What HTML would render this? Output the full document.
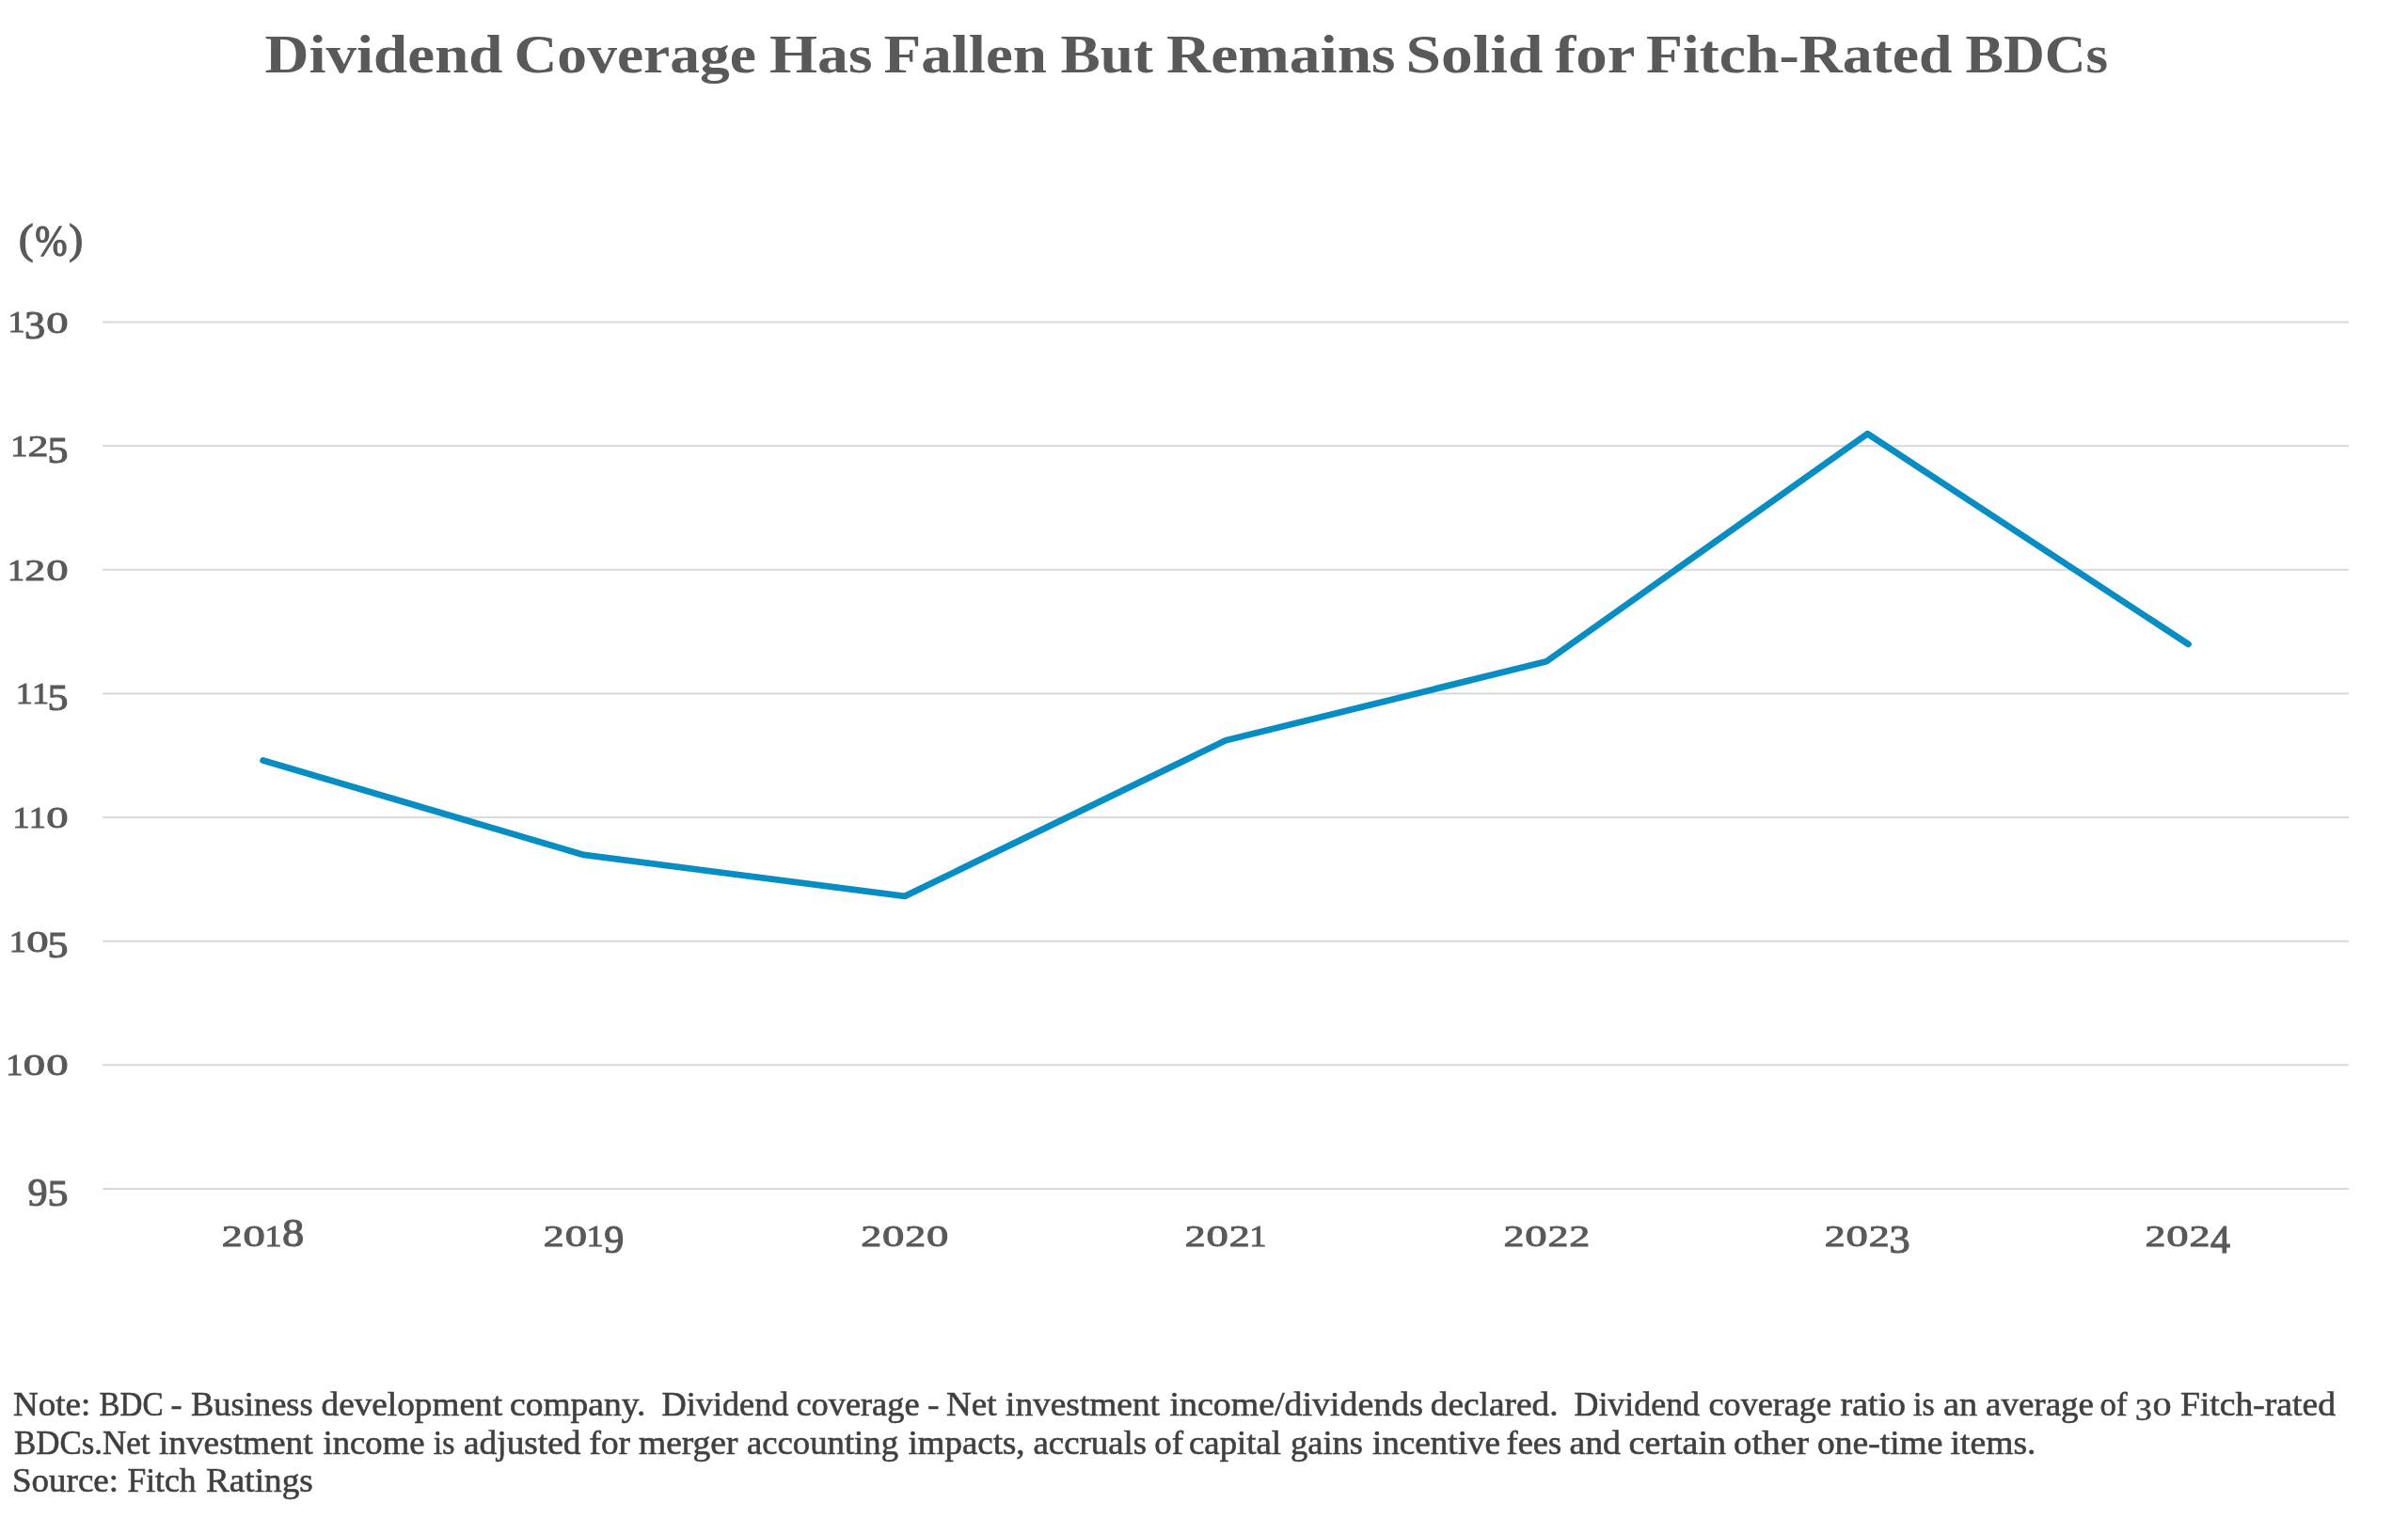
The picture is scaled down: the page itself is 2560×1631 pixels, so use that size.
<!DOCTYPE html>
<html><head><meta charset="utf-8"><title>Dividend Coverage Has Fallen But Remains Solid for Fitch-Rated BDCs</title>
<style>html,body{margin:0;padding:0;background:#fff;width:2560px;height:1631px;overflow:hidden}svg{display:block;will-change:transform}text{font-family:"Liberation Serif",serif}</style></head>
<body><svg width="2560" height="1631" viewBox="0 0 2560 1631">
<rect width="2560" height="1631" fill="#fff"/>
<rect x="109" y="341.50" width="2388" height="2.00" fill="#d9d9d9"/>
<rect x="109" y="473.14" width="2388" height="2.00" fill="#d9d9d9"/>
<rect x="109" y="604.78" width="2388" height="2.00" fill="#d9d9d9"/>
<rect x="109" y="736.42" width="2388" height="2.00" fill="#d9d9d9"/>
<rect x="109" y="868.06" width="2388" height="2.00" fill="#d9d9d9"/>
<rect x="109" y="999.70" width="2388" height="2.00" fill="#d9d9d9"/>
<rect x="109" y="1131.34" width="2388" height="2.00" fill="#d9d9d9"/>
<rect x="109" y="1262.98" width="2388" height="2.00" fill="#d9d9d9"/>
<text transform="matrix(0.90896 0 0 0.80284 8.55 353.45)" font-size="40.0" fill="#595959" stroke="#595959" stroke-width="1.1">1</text>
<text transform="matrix(1.10752 0 0 1.03442 26.03 359.85)" font-size="40.0" fill="#595959" stroke="#595959" stroke-width="1.1">3</text>
<text transform="matrix(1.16793 0 0 0.80394 49.17 353.64)" font-size="40.0" fill="#595959" stroke="#595959" stroke-width="1.1">0</text>
<text transform="matrix(0.90896 0 0 0.80284 11.20 485.09)" font-size="40.0" fill="#595959" stroke="#595959" stroke-width="1.1">1</text>
<text transform="matrix(1.09759 0 0 0.79670 29.62 485.09)" font-size="40.0" fill="#595959" stroke="#595959" stroke-width="1.1">2</text>
<text transform="matrix(1.09847 0 0 1.02325 50.50 491.69)" font-size="40.0" fill="#595959" stroke="#595959" stroke-width="1.1">5</text>
<text transform="matrix(0.90896 0 0 0.80284 7.90 616.73)" font-size="40.0" fill="#595959" stroke="#595959" stroke-width="1.1">1</text>
<text transform="matrix(1.09759 0 0 0.79670 26.32 616.73)" font-size="40.0" fill="#595959" stroke="#595959" stroke-width="1.1">2</text>
<text transform="matrix(1.16793 0 0 0.80394 49.17 616.92)" font-size="40.0" fill="#595959" stroke="#595959" stroke-width="1.1">0</text>
<text transform="matrix(0.90896 0 0 0.80284 16.75 748.37)" font-size="40.0" fill="#595959" stroke="#595959" stroke-width="1.1">1</text>
<text transform="matrix(0.90896 0 0 0.80284 33.95 748.37)" font-size="40.0" fill="#595959" stroke="#595959" stroke-width="1.1">1</text>
<text transform="matrix(1.09847 0 0 1.02325 50.50 754.97)" font-size="40.0" fill="#595959" stroke="#595959" stroke-width="1.1">5</text>
<text transform="matrix(0.90896 0 0 0.80284 13.45 880.01)" font-size="40.0" fill="#595959" stroke="#595959" stroke-width="1.1">1</text>
<text transform="matrix(0.90896 0 0 0.80284 30.65 880.01)" font-size="40.0" fill="#595959" stroke="#595959" stroke-width="1.1">1</text>
<text transform="matrix(1.16793 0 0 0.80394 49.17 880.20)" font-size="40.0" fill="#595959" stroke="#595959" stroke-width="1.1">0</text>
<text transform="matrix(0.90896 0 0 0.80284 9.65 1011.65)" font-size="40.0" fill="#595959" stroke="#595959" stroke-width="1.1">1</text>
<text transform="matrix(1.16793 0 0 0.80394 28.17 1011.84)" font-size="40.0" fill="#595959" stroke="#595959" stroke-width="1.1">0</text>
<text transform="matrix(1.09847 0 0 1.02325 50.50 1018.25)" font-size="40.0" fill="#595959" stroke="#595959" stroke-width="1.1">5</text>
<text transform="matrix(0.90896 0 0 0.80284 6.35 1143.29)" font-size="40.0" fill="#595959" stroke="#595959" stroke-width="1.1">1</text>
<text transform="matrix(1.16793 0 0 0.80394 24.87 1143.48)" font-size="40.0" fill="#595959" stroke="#595959" stroke-width="1.1">0</text>
<text transform="matrix(1.16793 0 0 0.80394 49.17 1143.48)" font-size="40.0" fill="#595959" stroke="#595959" stroke-width="1.1">0</text>
<text transform="matrix(1.05446 0 0 1.04558 29.59 1281.52)" font-size="40.0" fill="#595959" stroke="#595959" stroke-width="1.1">9</text>
<text transform="matrix(1.09847 0 0 1.02325 50.50 1281.53)" font-size="40.0" fill="#595959" stroke="#595959" stroke-width="1.1">5</text>
<text transform="matrix(1.09759 0 0 0.79670 235.74 1325.25)" font-size="40.0" fill="#595959" stroke="#595959" stroke-width="1.1">2</text>
<text transform="matrix(1.16793 0 0 0.80394 258.59 1325.44)" font-size="40.0" fill="#595959" stroke="#595959" stroke-width="1.1">0</text>
<text transform="matrix(0.90896 0 0 0.80284 281.58 1325.25)" font-size="40.0" fill="#595959" stroke="#595959" stroke-width="1.1">1</text>
<text transform="matrix(1.16203 0 0 1.07438 300.00 1325.23)" font-size="40.0" fill="#595959" stroke="#595959" stroke-width="1.1">8</text>
<text transform="matrix(1.09759 0 0 0.79670 577.78 1325.25)" font-size="40.0" fill="#595959" stroke="#595959" stroke-width="1.1">2</text>
<text transform="matrix(1.16793 0 0 0.80394 600.64 1325.44)" font-size="40.0" fill="#595959" stroke="#595959" stroke-width="1.1">0</text>
<text transform="matrix(0.90896 0 0 0.80284 623.62 1325.25)" font-size="40.0" fill="#595959" stroke="#595959" stroke-width="1.1">1</text>
<text transform="matrix(1.05446 0 0 1.04558 642.36 1331.84)" font-size="40.0" fill="#595959" stroke="#595959" stroke-width="1.1">9</text>
<text transform="matrix(1.09759 0 0 0.79670 915.15 1325.25)" font-size="40.0" fill="#595959" stroke="#595959" stroke-width="1.1">2</text>
<text transform="matrix(1.16793 0 0 0.80394 938.00 1325.44)" font-size="40.0" fill="#595959" stroke="#595959" stroke-width="1.1">0</text>
<text transform="matrix(1.09759 0 0 0.79670 962.20 1325.25)" font-size="40.0" fill="#595959" stroke="#595959" stroke-width="1.1">2</text>
<text transform="matrix(1.16793 0 0 0.80394 985.05 1325.44)" font-size="40.0" fill="#595959" stroke="#595959" stroke-width="1.1">0</text>
<text transform="matrix(1.09759 0 0 0.79670 1259.75 1325.25)" font-size="40.0" fill="#595959" stroke="#595959" stroke-width="1.1">2</text>
<text transform="matrix(1.16793 0 0 0.80394 1282.60 1325.44)" font-size="40.0" fill="#595959" stroke="#595959" stroke-width="1.1">0</text>
<text transform="matrix(1.09759 0 0 0.79670 1306.80 1325.25)" font-size="40.0" fill="#595959" stroke="#595959" stroke-width="1.1">2</text>
<text transform="matrix(0.90896 0 0 0.80284 1328.33 1325.25)" font-size="40.0" fill="#595959" stroke="#595959" stroke-width="1.1">1</text>
<text transform="matrix(1.09759 0 0 0.79670 1598.51 1325.25)" font-size="40.0" fill="#595959" stroke="#595959" stroke-width="1.1">2</text>
<text transform="matrix(1.16793 0 0 0.80394 1621.36 1325.44)" font-size="40.0" fill="#595959" stroke="#595959" stroke-width="1.1">0</text>
<text transform="matrix(1.09759 0 0 0.79670 1645.56 1325.25)" font-size="40.0" fill="#595959" stroke="#595959" stroke-width="1.1">2</text>
<text transform="matrix(1.09759 0 0 0.79670 1668.31 1325.25)" font-size="40.0" fill="#595959" stroke="#595959" stroke-width="1.1">2</text>
<text transform="matrix(1.09759 0 0 0.79670 1939.68 1325.25)" font-size="40.0" fill="#595959" stroke="#595959" stroke-width="1.1">2</text>
<text transform="matrix(1.16793 0 0 0.80394 1962.53 1325.44)" font-size="40.0" fill="#595959" stroke="#595959" stroke-width="1.1">0</text>
<text transform="matrix(1.09759 0 0 0.79670 1986.73 1325.25)" font-size="40.0" fill="#595959" stroke="#595959" stroke-width="1.1">2</text>
<text transform="matrix(1.10752 0 0 1.03442 2008.54 1331.65)" font-size="40.0" fill="#595959" stroke="#595959" stroke-width="1.1">3</text>
<text transform="matrix(1.09759 0 0 0.79670 2280.52 1325.25)" font-size="40.0" fill="#595959" stroke="#595959" stroke-width="1.1">2</text>
<text transform="matrix(1.16793 0 0 0.80394 2303.37 1325.44)" font-size="40.0" fill="#595959" stroke="#595959" stroke-width="1.1">0</text>
<text transform="matrix(1.09759 0 0 0.79670 2327.57 1325.25)" font-size="40.0" fill="#595959" stroke="#595959" stroke-width="1.1">2</text>
<text transform="matrix(1.04874 0 0 1.07869 2350.08 1332.25)" font-size="40.0" fill="#595959" stroke="#595959" stroke-width="1.1">4</text>
<text transform="matrix(1.18753 0 0 1.09183 19.76 269.05)" font-size="40.0" fill="#595959" stroke="#595959" stroke-width="1.1">(</text>
<text transform="matrix(1.02989 0 0 1.17587 37.14 271.83)" font-size="40.0" fill="#595959" stroke="#595959" stroke-width="1.1">%</text>
<text transform="matrix(1.12913 0 0 1.09183 73.19 269.05)" font-size="40.0" fill="#595959" stroke="#595959" stroke-width="1.1">)</text>
<polyline points="279.6,808.6 620.7,908.9 961.9,952.9 1303.0,787.3 1644.1,703.3 1985.3,461.2 2326.4,684.9" fill="none" stroke="#068ec4" stroke-width="6.8" stroke-linecap="round" stroke-linejoin="round"/>
<text x="281.50" y="77.00" font-size="57.4" font-weight="bold" fill="#595959" textLength="253.00" lengthAdjust="spacingAndGlyphs">Dividend</text>
<text x="546.50" y="77.00" font-size="57.4" font-weight="bold" fill="#595959" textLength="257.50" lengthAdjust="spacingAndGlyphs">Coverage</text>
<text x="818.00" y="77.00" font-size="57.4" font-weight="bold" fill="#595959" textLength="109.50" lengthAdjust="spacingAndGlyphs">Has</text>
<text x="939.50" y="77.00" font-size="57.4" font-weight="bold" fill="#595959" textLength="173.50" lengthAdjust="spacingAndGlyphs">Fallen</text>
<text x="1127.50" y="77.00" font-size="57.4" font-weight="bold" fill="#595959" textLength="98.50" lengthAdjust="spacingAndGlyphs">But</text>
<text x="1240.00" y="77.00" font-size="57.4" font-weight="bold" fill="#595959" textLength="243.50" lengthAdjust="spacingAndGlyphs">Remains</text>
<text x="1494.50" y="77.00" font-size="57.4" font-weight="bold" fill="#595959" textLength="146.00" lengthAdjust="spacingAndGlyphs">Solid</text>
<text x="1653.00" y="77.00" font-size="57.4" font-weight="bold" fill="#595959" textLength="85.50" lengthAdjust="spacingAndGlyphs">for</text>
<text x="1750.00" y="77.00" font-size="57.4" font-weight="bold" fill="#595959" textLength="325.50" lengthAdjust="spacingAndGlyphs">Fitch-Rated</text>
<text x="2089.50" y="77.00" font-size="57.4" font-weight="bold" fill="#595959" textLength="151.50" lengthAdjust="spacingAndGlyphs">BDCs</text>
<text x="14.00" y="1505.40" font-size="36" fill="#404040" stroke="#404040" stroke-width="0.6" textLength="82.25" lengthAdjust="spacingAndGlyphs">Note:</text>
<text x="105.50" y="1505.40" font-size="36" fill="#404040" stroke="#404040" stroke-width="0.6" textLength="68.00" lengthAdjust="spacingAndGlyphs">BDC</text>
<text x="181.50" y="1505.40" font-size="36" fill="#404040" stroke="#404040" stroke-width="0.6" textLength="12.00" lengthAdjust="spacingAndGlyphs">-</text>
<text x="203.00" y="1505.40" font-size="36" fill="#404040" stroke="#404040" stroke-width="0.6" textLength="129.75" lengthAdjust="spacingAndGlyphs">Business</text>
<text x="341.50" y="1505.40" font-size="36" fill="#404040" stroke="#404040" stroke-width="0.6" textLength="192.50" lengthAdjust="spacingAndGlyphs">development</text>
<text x="542.00" y="1505.40" font-size="36" fill="#404040" stroke="#404040" stroke-width="0.6" textLength="144.50" lengthAdjust="spacingAndGlyphs">company.</text>
<text x="703.50" y="1505.40" font-size="36" fill="#404040" stroke="#404040" stroke-width="0.6" textLength="135.00" lengthAdjust="spacingAndGlyphs">Dividend</text>
<text x="846.50" y="1505.40" font-size="36" fill="#404040" stroke="#404040" stroke-width="0.6" textLength="131.00" lengthAdjust="spacingAndGlyphs">coverage</text>
<text x="986.00" y="1505.40" font-size="36" fill="#404040" stroke="#404040" stroke-width="0.6" textLength="12.50" lengthAdjust="spacingAndGlyphs">-</text>
<text x="1006.00" y="1505.40" font-size="36" fill="#404040" stroke="#404040" stroke-width="0.6" textLength="53.50" lengthAdjust="spacingAndGlyphs">Net</text>
<text x="1069.00" y="1505.40" font-size="36" fill="#404040" stroke="#404040" stroke-width="0.6" textLength="164.00" lengthAdjust="spacingAndGlyphs">investment</text>
<text x="1243.50" y="1505.40" font-size="36" fill="#404040" stroke="#404040" stroke-width="0.6" textLength="269.50" lengthAdjust="spacingAndGlyphs">income/dividends</text>
<text x="1520.75" y="1505.40" font-size="36" fill="#404040" stroke="#404040" stroke-width="0.6" textLength="135.75" lengthAdjust="spacingAndGlyphs">declared.</text>
<text x="1673.50" y="1505.40" font-size="36" fill="#404040" stroke="#404040" stroke-width="0.6" textLength="133.50" lengthAdjust="spacingAndGlyphs">Dividend</text>
<text x="1816.50" y="1505.40" font-size="36" fill="#404040" stroke="#404040" stroke-width="0.6" textLength="130.50" lengthAdjust="spacingAndGlyphs">coverage</text>
<text x="1956.50" y="1505.40" font-size="36" fill="#404040" stroke="#404040" stroke-width="0.6" textLength="69.50" lengthAdjust="spacingAndGlyphs">ratio</text>
<text x="2034.00" y="1505.40" font-size="36" fill="#404040" stroke="#404040" stroke-width="0.6" textLength="22.75" lengthAdjust="spacingAndGlyphs">is</text>
<text x="2066.00" y="1505.40" font-size="36" fill="#404040" stroke="#404040" stroke-width="0.6" textLength="36.00" lengthAdjust="spacingAndGlyphs">an</text>
<text x="2111.00" y="1505.40" font-size="36" fill="#404040" stroke="#404040" stroke-width="0.6" textLength="115.00" lengthAdjust="spacingAndGlyphs">average</text>
<text x="2232.50" y="1505.40" font-size="36" fill="#404040" stroke="#404040" stroke-width="0.6" textLength="29.00" lengthAdjust="spacingAndGlyphs">of</text>
<text transform="matrix(0.88965 0 0 0.83349 2270.00 1509.67)" font-size="40.0" fill="#404040" stroke="#404040" stroke-width="0.6">3</text>
<text transform="matrix(1.00866 0 0 0.66315 2288.56 1505.24)" font-size="40.0" fill="#404040" stroke="#404040" stroke-width="0.6">0</text>
<text x="2318.00" y="1505.40" font-size="36" fill="#404040" stroke="#404040" stroke-width="0.6" textLength="165.00" lengthAdjust="spacingAndGlyphs">Fitch-rated</text>
<text x="15.00" y="1545.70" font-size="36" fill="#404040" stroke="#404040" stroke-width="0.6" textLength="144.50" lengthAdjust="spacingAndGlyphs">BDCs.Net</text>
<text x="169.00" y="1545.70" font-size="36" fill="#404040" stroke="#404040" stroke-width="0.6" textLength="163.50" lengthAdjust="spacingAndGlyphs">investment</text>
<text x="343.50" y="1545.70" font-size="36" fill="#404040" stroke="#404040" stroke-width="0.6" textLength="108.00" lengthAdjust="spacingAndGlyphs">income</text>
<text x="460.75" y="1545.70" font-size="36" fill="#404040" stroke="#404040" stroke-width="0.6" textLength="22.75" lengthAdjust="spacingAndGlyphs">is</text>
<text x="493.00" y="1545.70" font-size="36" fill="#404040" stroke="#404040" stroke-width="0.6" textLength="124.50" lengthAdjust="spacingAndGlyphs">adjusted</text>
<text x="626.50" y="1545.70" font-size="36" fill="#404040" stroke="#404040" stroke-width="0.6" textLength="43.50" lengthAdjust="spacingAndGlyphs">for</text>
<text x="679.00" y="1545.70" font-size="36" fill="#404040" stroke="#404040" stroke-width="0.6" textLength="105.50" lengthAdjust="spacingAndGlyphs">merger</text>
<text x="794.00" y="1545.70" font-size="36" fill="#404040" stroke="#404040" stroke-width="0.6" textLength="161.00" lengthAdjust="spacingAndGlyphs">accounting</text>
<text x="965.50" y="1545.70" font-size="36" fill="#404040" stroke="#404040" stroke-width="0.6" textLength="124.00" lengthAdjust="spacingAndGlyphs">impacts,</text>
<text x="1098.50" y="1545.70" font-size="36" fill="#404040" stroke="#404040" stroke-width="0.6" textLength="120.50" lengthAdjust="spacingAndGlyphs">accruals</text>
<text x="1227.25" y="1545.70" font-size="36" fill="#404040" stroke="#404040" stroke-width="0.6" textLength="30.75" lengthAdjust="spacingAndGlyphs">of</text>
<text x="1264.00" y="1545.70" font-size="36" fill="#404040" stroke="#404040" stroke-width="0.6" textLength="98.00" lengthAdjust="spacingAndGlyphs">capital</text>
<text x="1372.00" y="1545.70" font-size="36" fill="#404040" stroke="#404040" stroke-width="0.6" textLength="77.00" lengthAdjust="spacingAndGlyphs">gains</text>
<text x="1459.00" y="1545.70" font-size="36" fill="#404040" stroke="#404040" stroke-width="0.6" textLength="136.00" lengthAdjust="spacingAndGlyphs">incentive</text>
<text x="1601.50" y="1545.70" font-size="36" fill="#404040" stroke="#404040" stroke-width="0.6" textLength="58.75" lengthAdjust="spacingAndGlyphs">fees</text>
<text x="1668.50" y="1545.70" font-size="36" fill="#404040" stroke="#404040" stroke-width="0.6" textLength="54.50" lengthAdjust="spacingAndGlyphs">and</text>
<text x="1731.50" y="1545.70" font-size="36" fill="#404040" stroke="#404040" stroke-width="0.6" textLength="103.50" lengthAdjust="spacingAndGlyphs">certain</text>
<text x="1843.00" y="1545.70" font-size="36" fill="#404040" stroke="#404040" stroke-width="0.6" textLength="80.00" lengthAdjust="spacingAndGlyphs">other</text>
<text x="1932.00" y="1545.70" font-size="36" fill="#404040" stroke="#404040" stroke-width="0.6" textLength="133.50" lengthAdjust="spacingAndGlyphs">one-time</text>
<text x="2073.50" y="1545.70" font-size="36" fill="#404040" stroke="#404040" stroke-width="0.6" textLength="91.00" lengthAdjust="spacingAndGlyphs">items.</text>
<text x="13.00" y="1585.90" font-size="36" fill="#404040" stroke="#404040" stroke-width="0.6" textLength="113.00" lengthAdjust="spacingAndGlyphs">Source:</text>
<text x="135.50" y="1585.90" font-size="36" fill="#404040" stroke="#404040" stroke-width="0.6" textLength="73.00" lengthAdjust="spacingAndGlyphs">Fitch</text>
<text x="219.00" y="1585.90" font-size="36" fill="#404040" stroke="#404040" stroke-width="0.6" textLength="113.75" lengthAdjust="spacingAndGlyphs">Ratings</text>
</svg></body></html>
